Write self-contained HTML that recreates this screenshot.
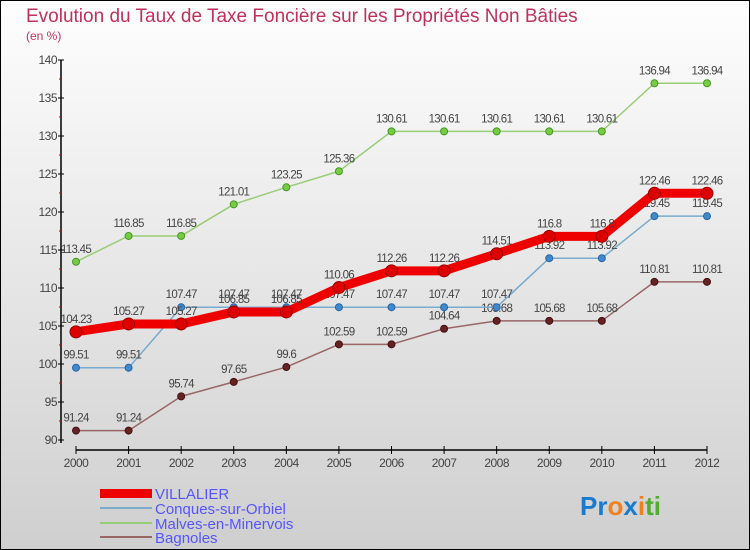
<!DOCTYPE html>
<html><head><meta charset="utf-8"><style>
body{margin:0;width:750px;height:550px;overflow:hidden;font-family:"Liberation Sans",sans-serif}
#c{position:absolute;left:0;top:0}
</style></head><body>
<svg id="c" width="750" height="550">
<defs><linearGradient id="bg" x1="0" y1="0" x2="0" y2="1"><stop offset="0" stop-color="#fefefe"/><stop offset="1" stop-color="#cfcfcf"/></linearGradient></defs>
<rect x="0.5" y="0.5" width="749" height="549" fill="url(#bg)" stroke="#000"/>
<text x="26" y="22" font-size="19" fill="#c0305a">Evolution du Taux de Taxe Foncière sur les Propriétés Non Bâties</text>
<text x="26" y="40" font-size="12" fill="#c0305a">(en %)</text>
<g id="axes"></g><g id="series"></g>
<g>
<rect x="100" y="489" width="52" height="9" fill="#e00"/>
<text x="155" y="499" font-size="15" fill="#55f">VILLALIER</text>
<line x1="100" y1="508" x2="152" y2="508" stroke="#7aaacc" stroke-width="2"/>
<text x="155" y="514" font-size="15" fill="#55f">Conques-sur-Orbiel</text>
<line x1="100" y1="523" x2="152" y2="523" stroke="#99cc77" stroke-width="2"/>
<text x="155" y="529" font-size="15" fill="#55f">Malves-en-Minervois</text>
<line x1="100" y1="537" x2="152" y2="537" stroke="#996666" stroke-width="2"/>
<text x="155" y="543" font-size="15" fill="#55f">Bagnoles</text>
</g>
<text x="580" y="515" font-size="26" font-weight="bold"><tspan fill="#1a7acc">Pr</tspan><tspan fill="#f08020">o</tspan><tspan fill="#1a7acc">x</tspan><tspan fill="#f08020">i</tspan><tspan fill="#55aa33">ti</tspan></text>
</svg>
<script>
const years=[2000,2001,2002,2003,2004,2005,2006,2007,2008,2009,2010,2011,2012];
const villalier=[104.23,105.27,105.27,106.85,106.85,110.06,112.26,112.26,114.51,116.8,116.8,122.46,122.46];
const conques=[99.51,99.51,107.47,107.47,107.47,107.47,107.47,107.47,107.47,113.92,113.92,119.45,119.45];
const malves=[113.45,116.85,116.85,121.01,123.25,125.36,130.61,130.61,130.61,130.61,130.61,136.94,136.94];
const bagnoles=[91.24,91.24,95.74,97.65,99.6,102.59,102.59,104.64,105.68,105.68,105.68,110.81,110.81];
const yTicks=[90,95,100,105,110,115,120,125,130,135,140];
const NS="http://www.w3.org/2000/svg";
const X=i=>76+i*(707-76)/(years.length-1);
const Y=v=>440-(v-90)*7.6;
function mk(tag,attrs,parent){const e=document.createElementNS(NS,tag);for(const k in attrs)e.setAttribute(k,attrs[k]);parent.appendChild(e);return e;}
const ax=document.getElementById('axes');
let yl=mk('line',{x1:61,y1:Y(140),x2:61,y2:Y(90)+3,stroke:'#000','stroke-width':1.5},ax);


let xl=mk('line',{x1:76,y1:450,x2:707,y2:450,stroke:'#000','stroke-width':1.5},ax);


yTicks.forEach(t=>{
 mk('line',{x1:58,y1:Y(t),x2:64,y2:Y(t),stroke:'#000'},ax);
 if(t<140)mk('line',{x1:59,y1:Y(t+2.5),x2:62,y2:Y(t+2.5),stroke:'#c00'},ax);
 const tx=mk('text',{x:57,y:Y(t)+4,'font-size':12,'text-anchor':'end',fill:'#444','letter-spacing':'-0.5'},ax);
 tx.textContent=t;
 
 
});
years.forEach((yr,i)=>{
 mk('line',{x1:X(i),y1:446,x2:X(i),y2:454,stroke:'#000'},ax);
 const tx=mk('text',{x:X(i),y:467,'font-size':12,'text-anchor':'middle',fill:'#444','letter-spacing':'-0.5'},ax);
 tx.textContent=yr;
 
 
});
const sg=document.getElementById('series');
function draw(vals,color,lw,r,name,fill,stroke){
 const g=mk('g',{},sg);
 
 
 const p=mk('polyline',{points:vals.map((v,i)=>X(i)+','+Y(v)).join(' '),fill:'none',stroke:color,'stroke-width':lw,'stroke-linejoin':'round'},g);
 
 
 vals.forEach((v,i)=>{
  const c=mk('circle',{cx:X(i),cy:Y(v),r:r,fill:fill,stroke:stroke,'stroke-width':1},g);
  
  
  const t=mk('text',{x:X(i),y:Y(v)-9,'font-size':11.5,'text-anchor':'middle',fill:'#444','letter-spacing':'-0.7'},g);
  t.textContent=v;
  
  
 });
}
draw(bagnoles,'#996666',1.5,3.5,'bagnoles','#662222','#441111');
draw(malves,'#99cc77',1.5,3.5,'malves','#77cc44','#449922');
draw(conques,'#7aaacc',1.5,3.5,'conques','#4488cc','#2266aa');
draw(villalier,'#ee0000',9,6,'villalier','#dd0000','#990000');
</script>
</body></html>
